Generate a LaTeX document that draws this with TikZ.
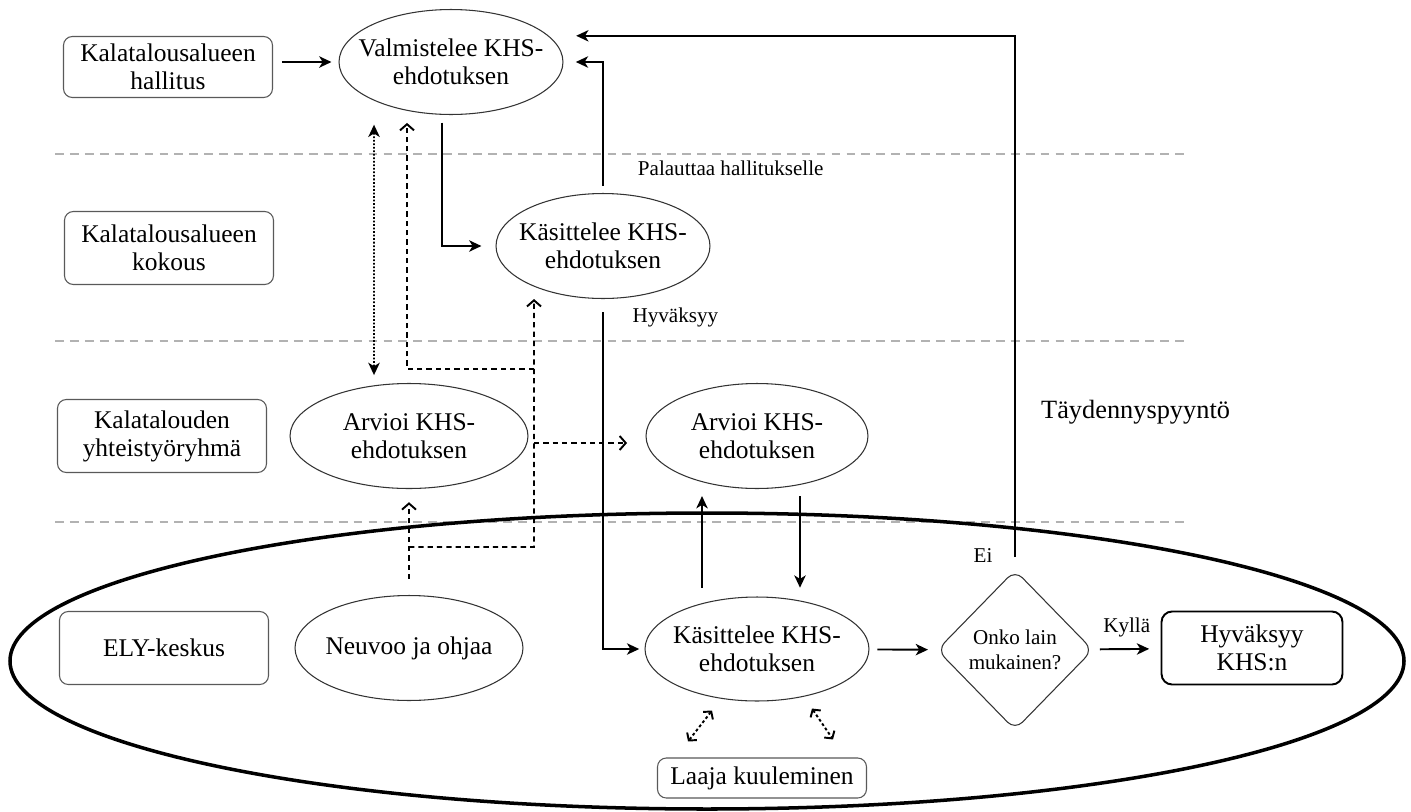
\documentclass[tikz,border=0pt]{standalone}
\usepackage{fontspec}
\setmainfont{Liberation Serif}
\usepackage{tikz}
\usetikzlibrary{arrows.meta,shapes,backgrounds}

\begin{document}
\begin{tikzpicture}[x=0.02cm,y=-0.02cm,>={Stealth[length=7pt,width=6.5pt,inset=2pt]},
                    line width=1.1pt,
                    lane node/.style={draw=black!65,line width=0.6pt,rounded corners=5pt,align=center,inner sep=2pt,
                        minimum width=4.18cm,minimum height=1.46cm,font=\fontsize{14.5}{16}\selectfont},
                    task node/.style={ellipse,draw=black!80,line width=0.6pt,align=center,
                        inner xsep=-14pt,inner ysep=-8pt,
                        minimum height=2.1cm,font=\fontsize{14.5}{16}\selectfont},
                    lbl/.style={font=\fontsize{12}{14}\selectfont},
                    dsh/.style={dash pattern=on 3pt off 2.3pt,-{Straight Barb[length=3.5pt,width=8pt]}},
                    dotline/.style={dash pattern=on 1pt off 1pt},
                    dotpair/.style={dash pattern=on 1.6pt off 1.4pt,
                        {Straight Barb[length=3pt,width=7pt]}-{Straight Barb[length=3pt,width=7pt]}}]

    \useasboundingbox (0,0) rectangle (1411,812);
    \fill[white] (0,0) rectangle (1411,812);

    % lanes
    \foreach \y in {154,341,522}
        \draw[black!30,line width=0.7pt,dash pattern=on 5pt off 3.5pt] (55,\y) -- (1185,\y);
    \draw[line width=2pt] (707,661) ellipse [x radius=697,y radius=148];

    \node[lane node,minimum height=1.22cm] (hall) at (168,67) {Kalatalousalueen\\hallitus};
    \node[lane node] (kok) at (169,248) {Kalatalousalueen\\kokous};
    \node[lane node] (yht) at (162,436) {Kalatalouden\\yhteistyöryhmä};
    \node[lane node] (ely) at (164,648) {ELY-keskus};

    % tasks
    \node[task node,minimum width=4.48cm] (valm) at (451,62) {Valmistelee KHS-\\ehdotuksen};
    \node[task node,minimum width=4.28cm] (kas1) at (603,246) {Käsittelee KHS-\\ehdotuksen};
    \node[task node,minimum width=4.76cm] (arv1) at (409,436) {Arvioi KHS-\\ehdotuksen};
    \node[task node,minimum width=4.44cm] (arv2) at (757,436) {Arvioi KHS-\\ehdotuksen};
    \node[task node,minimum width=4.56cm] (neu) at (409,648) {Neuvoo ja ohjaa};
    \node[task node,minimum width=4.48cm,minimum height=2.08cm] (kas2) at (757,649) {Käsittelee KHS-\\ehdotuksen};
    \node[diamond,draw=black!80,line width=0.6pt,rounded corners=6pt,aspect=1,inner sep=0pt,align=center,
          minimum width=3.12cm,minimum height=3.2cm,font=\fontsize{12}{14}\selectfont] (lain) at (1015,650) {Onko lain\\mukainen?};
    \node[draw,line width=1.1pt,rounded corners=6pt,align=center,minimum width=3.62cm,minimum height=1.46cm,
          font=\fontsize{14.5}{16}\selectfont] (hyv) at (1252,648) {Hyväksyy\\KHS:n};
    \node[lane node,minimum height=0.8cm] (laaja) at (762,778) {Laaja kuuleminen};

    % main flow
    \draw[->,shorten <=5pt,shorten >=4pt] (hall.east |- valm.west) -- (valm.west);
    \draw[->,shorten <=4.5pt,shorten >=8pt] (valm.260) |- (kas1.west);
    \draw[->,shorten <=4pt,shorten >=7pt] (kas1.north) |- (valm.east)
        node[lbl,pos=0.095,right=16pt] {Palauttaa hallitukselle};
    \draw[->,shorten <=7.5pt,shorten >=3pt] (kas1.south) |- (kas2.west)
        node[lbl,pos=0.027,right=13pt] {Hyväksyy};
    \draw[->,shorten <=7pt,shorten >=15.6pt] (lain.north) |- (valm.15)
        node[lbl,pos=0,anchor=south east,xshift=-9pt] {Ei}
        node[pos=0.147,right=11pt,font=\fontsize{15}{17}\selectfont] {Täydennyspyyntö};
    \draw[->,shorten <=5pt,shorten >=4pt] ([xshift=-1.1cm]kas2.north) -- ([xshift=-1.1cm]arv2.south);
    \draw[->,shorten <=4pt,shorten >=5pt] ([xshift=0.86cm]arv2.south) -- ([xshift=0.86cm]kas2.north);

    \path (kas2) edge[->,shorten <=4.5pt,shorten >=5pt] (lain)
          (lain) edge[->,shorten <=4pt,shorten >=6.5pt] node[lbl,above,yshift=3pt] {Kyllä} (hyv);

    % guidance
    \draw[<->,dotline,shorten <=5.5pt,shorten >=4.5pt] ([xshift=-1.54cm]valm.south) -- ([xshift=-0.7cm]arv1.north);

    \coordinate (fork) at (409,547);
    \coordinate (bend) at (534,547);
    \coordinate (tee1) at (534,443);
    \coordinate (tee2) at (534,369);
    \draw[dsh,shorten <=9pt,shorten >=7.5pt] (neu.north) -- (arv1.south);
    \draw[dsh] (fork) -- (bend) -- ([xshift=-1.38cm]kas1.south);
    \draw[dsh,shorten >=10.5pt] (tee1) -- (tee1 -| arv2.west);
    \draw[dsh,shorten >=4.5pt] (tee2) -| ([xshift=-0.88cm]valm.south);

    \draw[dotpair] ([xshift=-0.9cm,yshift=-0.18cm]kas2.south) -- ([xshift=-1.48cm,yshift=0.32cm]laaja.north);
    \draw[dotpair] ([xshift=1.1cm,yshift=-0.14cm]kas2.south) -- ([xshift=1.42cm,yshift=0.36cm]laaja.north);
\end{tikzpicture}
\end{document}
